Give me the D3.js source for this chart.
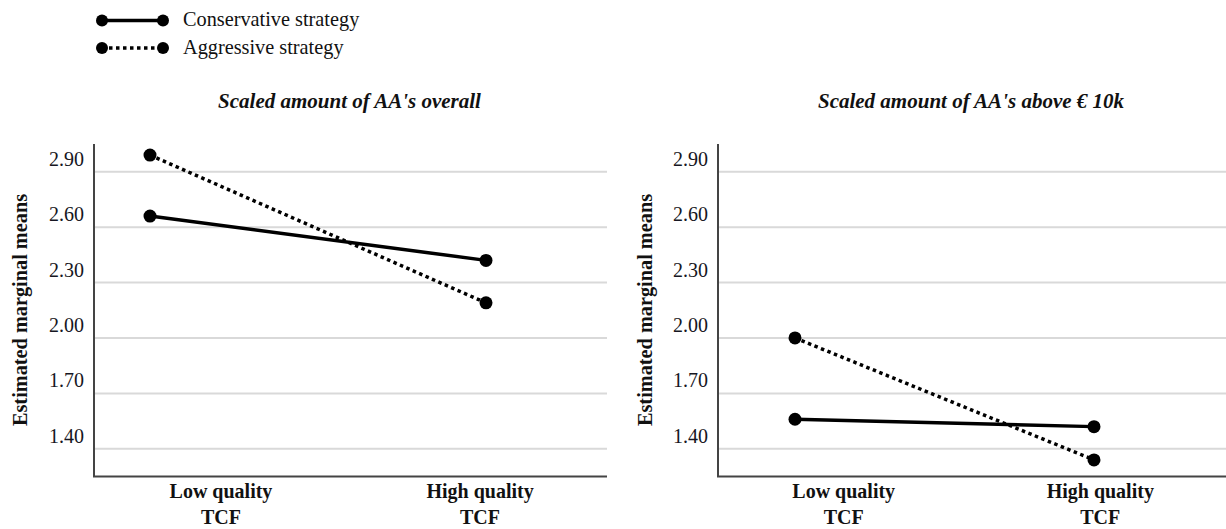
<!DOCTYPE html>
<html>
<head>
<meta charset="utf-8">
<script src="https://cdn.jsdelivr.net/npm/d3@7"></script>
<style>
  html, body { margin: 0; padding: 0; background: #fff; }
  svg { display: block; font-family: "Liberation Serif", "DejaVu Serif", serif; }
</style>
</head>
<body>
<svg id="chart" width="1226" height="529"></svg>
<script>
// categories and labels
const categories = ['Low quality', 'High quality'];
const categorySub = 'TCF';
const seriesNames = ['Conservative strategy', 'Aggressive strategy'];
const panelTitles = ["Scaled amount of AA's overall", "Scaled amount of AA's above \u20ac 10k"];
const yTitle = 'Estimated marginal means';
const yTicks = [1.40, 1.70, 2.00, 2.30, 2.60, 2.90];

// estimated marginal means
const overallConservative = [2.66, 2.42];
const overallAggressive = [2.99, 2.19];
const above10kConservative = [1.56, 1.52];
const above10kAggressive = [2.00, 1.34];

const yDomain = [1.25, 3.05];

const panels = [
    {title: panelTitles[0], series: [overallConservative, overallAggressive],
     left: 94, right: 607, pointRange: [150, 486], yTitleX: 20},
    {title: panelTitles[1], series: [above10kConservative, above10kAggressive],
     left: 718, right: 1226, pointRange: [795, 1094], yTitleX: 645}
];

const plotTop = 144, plotBottom = 476.5;
const dotR = 6.5;
const dashes = [null, '3.5,3.5'];

const svg = d3.select('#chart');

const yScale = d3.scaleLinear().domain(yDomain).range([plotBottom, plotTop]);

// legend
const legend = svg.append('g').attr('class', 'legend');
seriesNames.forEach((name, i) => {
    const ly = 20.5 + i * 27.5;
    const g = legend.append('g').attr('transform', `translate(0, ${ly})`);
    g.append('line')
        .attr('x1', 102).attr('x2', 163)
        .attr('y1', 0).attr('y2', 0)
        .attr('stroke', '#000')
        .attr('stroke-width', 3.5)
        .attr('stroke-dasharray', dashes[i]);
    g.selectAll('circle').data([102, 163]).enter()
        .append('circle')
        .attr('cx', d => d).attr('cy', 0).attr('r', 6)
        .attr('fill', '#000');
    g.append('text')
        .attr('x', 183).attr('y', 5.5)
        .attr('font-size', 20.3)
        .attr('fill', '#111')
        .text(name);
});

panels.forEach(p => {
    const root = svg.append('g');

    const xLabels = d3.scalePoint().domain(categories).range([p.left, p.right]).padding(0.49);
    const xPoints = d3.scalePoint().domain(categories).range(p.pointRange);

    // grid lines
    root.append('g')
        .selectAll('line')
        .data(yTicks)
        .enter()
        .append('line')
        .attr('x1', p.left).attr('x2', p.right)
        .attr('y1', d => yScale(d)).attr('y2', d => yScale(d))
        .attr('stroke', '#d9d9d9')
        .attr('stroke-width', 2);

    // y axis
    const yAxis = d3.axisLeft(yScale)
        .tickValues(yTicks)
        .tickSize(0)
        .tickPadding(10)
        .tickFormat(d3.format('.2f'));
    const ya = root.append('g')
        .attr('transform', `translate(${p.left}, 0)`)
        .call(yAxis);
    ya.select('.domain').remove();
    ya.selectAll('text')
        .attr('font-family', '"Liberation Serif", serif')
        .attr('font-size', 20)
        .attr('fill', '#161622')
        .attr('dy', '-0.32em');

    // axis frame
    root.append('path')
        .attr('d', `M${p.left},${plotTop}V${plotBottom}H${p.right}`)
        .attr('fill', 'none')
        .attr('stroke', '#444')
        .attr('stroke-width', 2);

    // x labels
    const xl = root.append('g');
    categories.forEach(c => {
        const t = xl.append('text')
            .attr('x', xLabels(c))
            .attr('text-anchor', 'middle')
            .attr('font-size', 20)
            .attr('font-weight', 'bold')
            .attr('fill', '#111');
        t.append('tspan').attr('x', xLabels(c)).attr('y', 498).text(c);
        t.append('tspan').attr('x', xLabels(c)).attr('y', 524).text(categorySub);
    });

    // y title
    root.append('text')
        .attr('transform', `translate(${p.yTitleX + 7}, 310) rotate(-90)`)
        .attr('text-anchor', 'middle')
        .attr('font-size', 20.3)
        .attr('font-weight', 'bold')
        .attr('fill', '#111')
        .text(yTitle);

    // panel title
    root.append('text')
        .attr('x', (p.left + p.right) / 2 - 1)
        .attr('y', 108)
        .attr('text-anchor', 'middle')
        .attr('font-size', 21)
        .attr('font-weight', 'bold')
        .attr('font-style', 'italic')
        .attr('fill', '#111')
        .text(p.title);

    // lines and points
    const line = d3.line()
        .x((d, i) => xPoints(categories[i]))
        .y(d => yScale(d));

    p.series.forEach((vals, si) => {
        root.append('path')
            .datum(vals)
            .attr('d', line)
            .attr('fill', 'none')
            .attr('stroke', '#000')
            .attr('stroke-width', 3.5)
            .attr('stroke-dasharray', dashes[si]);
        root.selectAll(`.pt-${si}`)
            .data(vals)
            .enter()
            .append('circle')
            .attr('class', `pt-${si}`)
            .attr('cx', (d, i) => xPoints(categories[i]))
            .attr('cy', d => yScale(d))
            .attr('r', dotR)
            .attr('fill', '#000');
    });
});
</script>
</body>
</html>
